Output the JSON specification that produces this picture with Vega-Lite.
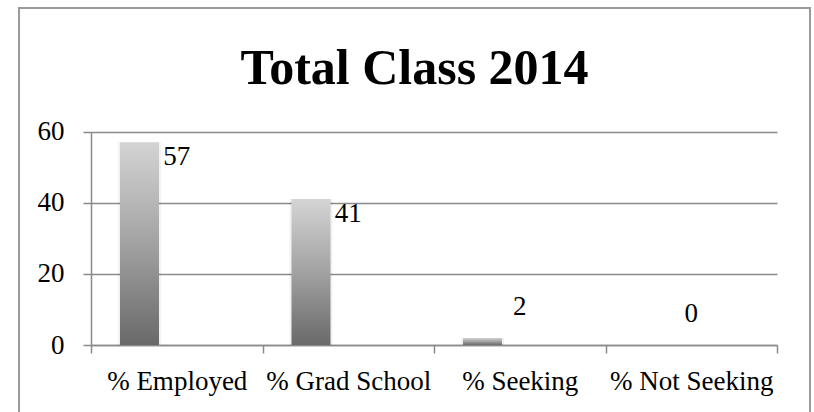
{
  "$schema": "https://vega.github.io/schema/vega-lite/v6.json",
  "width": 791,
  "height": 408,
  "autosize": {"type": "none"},
  "padding": {"left": 19, "top": 8, "right": 4, "bottom": -4},
  "background": "white",
  "view": {"stroke": "#9a9a9a", "strokeWidth": 2, "fill": "white"},
  "title": {
    "text": "Total Class 2014",
    "font": "Liberation Serif",
    "fontSize": 50,
    "fontWeight": "bold",
    "color": "black",
    "anchor": "middle",
    "frame": "group",
    "baseline": "alphabetic",
    "offset": -126
  },
  "data": {
    "values": [
      {"category": "% Employed", "value": 57},
      {"category": "% Grad School", "value": 41},
      {"category": "% Seeking", "value": 2},
      {"category": "% Not Seeking", "value": 0}
    ]
  },
  "encoding": {
    "x": {
      "field": "category",
      "type": "nominal",
      "sort": null,
      "scale": {"range": [72, 758], "paddingInner": 0, "paddingOuter": 0},
      "axis": {
        "title": null,
        "orient": "bottom",
        "offset": -71,
        "labelAngle": 0,
        "labelFont": "Liberation Serif",
        "labelFontSize": 27,
        "labelColor": "black",
        "labelPadding": 36.5,
        "labelBaseline": "alphabetic",
        "labelOverlap": false,
        "labelLimit": 0,
        "labelFlush": false,
        "tickBand": "extent",
        "tickSize": 8,
        "tickColor": "#8a8a8a",
        "tickWidth": 1.5,
        "domainColor": "#8a8a8a",
        "domainWidth": 1.5,
        "grid": false
      }
    },
    "y": {
      "field": "value",
      "type": "quantitative",
      "scale": {"domain": [0, 60], "range": [337, 123.5], "nice": false},
      "axis": {
        "title": null,
        "orient": "left",
        "offset": -72,
        "values": [0, 20, 40, 60],
        "labelFont": "Liberation Serif",
        "labelFontSize": 27,
        "labelColor": "black",
        "labelPadding": 19,
        "tickSize": 8,
        "tickColor": "#8a8a8a",
        "tickWidth": 1.5,
        "domainColor": "#8a8a8a",
        "domainWidth": 1.5,
        "grid": true,
        "gridColor": "#8a8a8a",
        "gridWidth": 1.5
      }
    }
  },
  "layer": [
    {
      "mark": {"type": "bar", "width": 43, "xOffset": -37.25, "color": "#000000", "opacity": 0.05}
    },
    {
      "mark": {
        "type": "bar",
        "width": 39,
        "xOffset": -37.25,
        "color": {
          "gradient": "linear",
          "x1": 0, "y1": 0, "x2": 0, "y2": 1,
          "stops": [
            {"offset": 0, "color": "#d4d4d4"},
            {"offset": 0.5, "color": "#a2a2a2"},
            {"offset": 1, "color": "#696969"}
          ]
        }
      }
    },
    {
      "transform": [{"filter": "datum.value >= 10"}],
      "mark": {"type": "text", "font": "Liberation Serif", "fontSize": 27, "color": "black", "align": "center", "baseline": "middle", "dy": 15},
      "encoding": {"text": {"field": "value", "type": "quantitative"}}
    },
    {
      "transform": [{"filter": "datum.value < 10"}],
      "mark": {"type": "text", "font": "Liberation Serif", "fontSize": 27, "color": "black", "align": "center", "baseline": "middle", "dy": -31},
      "encoding": {"text": {"field": "value", "type": "quantitative"}}
    }
  ]
}
